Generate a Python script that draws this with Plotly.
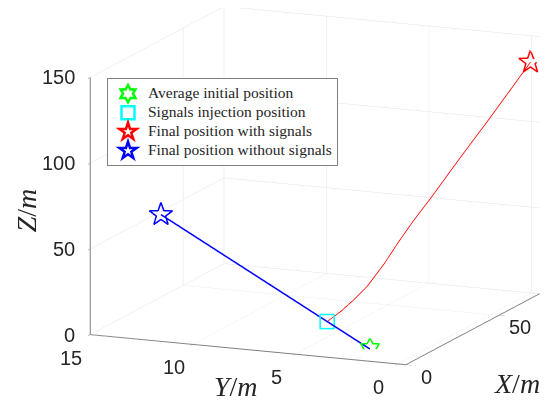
import numpy as np
import plotly.graph_objects as go

# positions (m)
init_pos = [10.5, 2.3, 0.0]
inject_pos = [10.6, 4.4, 13.6]
final_with = [71.5, 0.0, 134.9]
final_without = [10.5, 12.5, 66.8]

# trajectory with signals (from the injection point on)
x_red = [10.6, 13.6, 16.3, 19.0, 22.5, 25.2, 29.7, 35.5, 44.1, 54.8, 62.8, 71.5]
y_red = [4.4, 4.0, 3.6, 3.2, 2.7, 2.3, 1.9, 1.6, 1.0, 0.5, 0.2, 0.0]
z_red = [13.6, 18.3, 24.1, 30.8, 42.3, 53.0, 64.6, 74.5, 92.9, 110.8, 123.4, 134.9]

x_rng = [0, 72]
y_rng = [-0.4, 15]
z_rng = [0, 150]

x_ticks = [0, 50]
y_ticks = [0, 5, 10, 15]
z_ticks = [0, 50, 100, 150]

legend_names = ["Average initial position", "Signals injection position",
                "Final position with signals", "Final position without signals"]

# box shape and zoom (orthographic: zoom is the aspect ratio scale)
asp = np.array([1.0, 1.0, 0.77])
zoom = 1.66
aspect = dict(x=asp[0] * zoom, y=asp[1] * zoom, z=asp[2] * zoom)

# camera
el = np.radians(13)
hdir = np.array([0.92, 0.39]) / np.hypot(0.92, 0.39)
eye_dir = np.array([-hdir[0], -hdir[1], np.tan(el)])

view = -eye_dir / np.linalg.norm(eye_dir)
right = np.cross(view, [0, 0, 1])
right /= np.linalg.norm(right)
up = np.cross(right, view)

# move the box on the page (px -> camera units, rough)
shift_px = np.array([32.0, 29.0])
p = 207.0
ctr = -(shift_px[0] / p) * right - (shift_px[1] / p) * up
eye = eye_dir * 1.5 + ctr

# screen vectors, used to draw star shaped markers in the 3d scene
S = 339.0  # px per unit of box side
span = np.array([x_rng[1] - x_rng[0], y_rng[1] - y_rng[0], z_rng[1] - z_rng[0]])
px2data = span / asp / S


def outline(c, npts, r_out, r_in, rot=np.pi / 2):
    i = np.arange(2 * npts + 1)
    ang = rot + i * np.pi / npts
    rad = np.where(i % 2 == 0, r_out, r_in)
    off = (np.outer(rad * np.cos(ang), right) + np.outer(rad * np.sin(ang), up)) * px2data
    return np.array(c) + off


def square(c, half):
    ang = np.pi / 4 + np.arange(5) * np.pi / 2
    r = half * np.sqrt(2)
    off = (np.outer(r * np.cos(ang), right) + np.outer(r * np.sin(ang), up)) * px2data
    return np.array(c) + off


fig = go.Figure()

# blue: straight path without signals
fig.add_trace(go.Scatter3d(x=[init_pos[0], final_without[0]], y=[init_pos[1], final_without[1]],
                           z=[init_pos[2], final_without[2]], mode="lines",
                           line=dict(color="#0000ff", width=3), showlegend=False, hoverinfo="skip"))
# red: path with signals
fig.add_trace(go.Scatter3d(x=[init_pos[0]] + x_red, y=[init_pos[1]] + y_red, z=[init_pos[2]] + z_red,
                           mode="lines", line=dict(color="#ff0000", width=1.6),
                           showlegend=False, hoverinfo="skip"))

marks = [
    (outline(init_pos, 6, 10.5, 6), "#00ff00"),
    (square(inject_pos, 7), "#00ffff"),
    (outline(final_with, 5, 12, 4.8), "#ff0000"),
    (outline(final_without, 5, 12, 4.8), "#0000ff"),
]
for pts, col in marks:
    fig.add_trace(go.Scatter3d(x=pts[:, 0], y=pts[:, 1], z=pts[:, 2], mode="lines",
                               line=dict(color=col, width=3), showlegend=False, hoverinfo="skip"))

# legend entries (small legend font keeps the rows tight, the span sets the text size)
leg_syms = ["hexagram-open", "square-open", "star-open", "star-open"]
leg_cols = ["#00ff00", "#00ffff", "#ff0000", "#0000ff"]
for name, sym, col in zip(legend_names, leg_syms, leg_cols):
    fig.add_trace(go.Scatter(x=[None], y=[None], mode="markers",
                             name=f'<span style="font-size:15.5px">{name}</span>',
                             marker=dict(symbol=sym, size=13, color=col, line=dict(width=2.5, color=col))))

# tick labels and axis titles as scene annotations (matlab-like placement)
tick_font = dict(family="Liberation Sans", size=20, color="#262626")
title_font = dict(family="Liberation Serif", size=28, color="#262626")
ann = []
for t in z_ticks:
    ann.append(dict(x=x_rng[0], y=y_rng[1], z=t, text=str(t), xanchor="right", yanchor="middle",
                    xshift=-13, showarrow=False, font=tick_font))
for t in y_ticks:
    ann.append(dict(x=x_rng[0], y=t, z=z_rng[0], text=str(t), xanchor="center", yanchor="middle",
                    xshift=-19, yshift=-23, showarrow=False, font=tick_font))
for t in x_ticks:
    ann.append(dict(x=t, y=y_rng[0], z=z_rng[0], text=str(t), xanchor="center", yanchor="middle",
                    xshift=21, yshift=-12, showarrow=False, font=tick_font))
ann.append(dict(x=x_rng[0], y=y_rng[1], z=sum(z_rng) / 2, text="<i>Z</i>/<i>m</i>", textangle=-90,
                xshift=-64, yshift=-4, showarrow=False, font=title_font))
ann.append(dict(x=x_rng[0], y=sum(y_rng) / 2, z=z_rng[0], text="<i>Y</i>/<i>m</i>",
                xshift=-12, yshift=-37, showarrow=False, font=title_font))
ann.append(dict(x=sum(x_rng) / 2, y=y_rng[0], z=z_rng[0], text="<i>X</i>/<i>m</i>",
                xshift=44, yshift=-54, showarrow=False, font=title_font))

ax_common = dict(showbackground=False, gridcolor="#e3e3e3", gridwidth=1,
                 showline=True, linecolor="#808080", linewidth=2,
                 ticks="outside", ticklen=6, tickcolor="#808080",
                 showticklabels=False, title=dict(text=""),
                 zeroline=False, showspikes=False)

fig.update_layout(
    width=550, height=413, margin=dict(l=0, r=0, t=0, b=0),
    paper_bgcolor="white", plot_bgcolor="white",
    xaxis=dict(visible=False), yaxis=dict(visible=False),
    showlegend=True,
    legend=dict(x=0.18, y=0.83, xanchor="left", yanchor="top", bgcolor="white",
                bordercolor="#808080", borderwidth=1, itemwidth=30, tracegroupgap=0,
                font=dict(family="Liberation Serif", size=10.2, color="#262626")),
    scene=dict(
        domain=dict(x=[0, 1], y=[0, 1]),
        aspectmode="manual", aspectratio=aspect,
        camera=dict(eye=dict(x=eye[0], y=eye[1], z=eye[2]), up=dict(x=0, y=0, z=1),
                    center=dict(x=ctr[0], y=ctr[1], z=ctr[2]), projection=dict(type="orthographic")),
        xaxis=dict(ax_common, range=x_rng, tickvals=x_ticks),
        yaxis=dict(ax_common, range=y_rng, tickvals=y_ticks),
        zaxis=dict(ax_common, range=z_rng, tickvals=z_ticks),
        annotations=ann,
    ),
)

fig.write_html("out.html")
